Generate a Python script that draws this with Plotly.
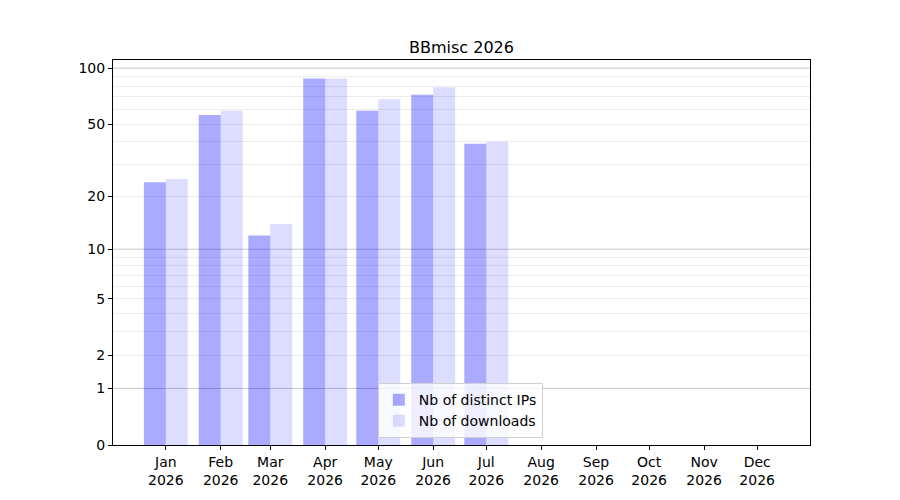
import numpy as np
import plotly.graph_objects as go

# monthly stats for BBmisc, 2026
month_starts = ['2026-01-01', '2026-02-01', '2026-03-01', '2026-04-01', '2026-05-01', '2026-06-01',
                '2026-07-01', '2026-08-01', '2026-09-01', '2026-10-01', '2026-11-01', '2026-12-01']
month_labels = ['Jan<br>2026', 'Feb<br>2026', 'Mar<br>2026', 'Apr<br>2026', 'May<br>2026', 'Jun<br>2026',
                'Jul<br>2026', 'Aug<br>2026', 'Sep<br>2026', 'Oct<br>2026', 'Nov<br>2026', 'Dec<br>2026']
distinct_ips = [24, 56, 12, 88, 59, 72, 39, 0, 0, 0, 0, 0]
downloads = [25, 59, 14, 88, 68, 79, 40, 0, 0, 0, 0, 0]

y_ticks = [0, 1, 2, 5, 10, 20, 50, 100]
minor_grid = [2, 3, 4, 5, 6, 7, 8, 9, 20, 30, 40, 50, 60, 70, 80, 90]
major_grid = [1, 10, 100]


def tr(v):
    # log(1 + x) scale
    return np.log10(1 + np.asarray(v, dtype=float))


DAY_MS = 24 * 3600 * 1000
bar_w = 12.4 * DAY_MS

fig = go.Figure()
fig.add_trace(go.Bar(x=month_starts, y=tr(distinct_ips), name='Nb of distinct IPs',
                     width=bar_w, offset=-bar_w, marker=dict(color='rgba(0,0,255,0.333)', line=dict(width=0))))
fig.add_trace(go.Bar(x=month_starts, y=tr(downloads), name='Nb of downloads',
                     width=bar_w, offset=0, marker=dict(color='rgba(0,0,255,0.133)', line=dict(width=0))))

# darker grid lines on the decades
for v in major_grid:
    fig.add_shape(type='line', xref='paper', x0=0, x1=1, yref='y', y0=tr(v), y1=tr(v),
                  line=dict(color='rgba(0,0,0,0.22)', width=1), layer='between')

fig.update_layout(
    template='none', width=900, height=500,
    margin=dict(l=105, r=98, t=52, b=63),
    paper_bgcolor='white', plot_bgcolor='white',
    font=dict(family='DejaVu Sans', size=14, color='black'),
    title=dict(text='BBmisc 2026', x=0.5, xref='paper', y=1 - 39 / 500, yanchor='middle',
               font=dict(size=16)),
    barmode='overlay', showlegend=True,
    legend=dict(x=0.380, y=0.018, xanchor='left', yanchor='bottom', bgcolor='rgba(255,255,255,0.8)',
                bordercolor='#d0d0d0', borderwidth=1, font=dict(size=14)),
)
fig.update_xaxes(type='date', range=['2025-12-02 04:00', '2026-12-30 20:00'],
                 tickmode='array', tickvals=month_starts, ticktext=month_labels,
                 showgrid=False, zeroline=False, showline=True, linecolor='black', linewidth=1, mirror=True,
                 ticks='outside', ticklen=4, tickcolor='black')
fig.update_yaxes(range=[0, 2.048], tickmode='array', tickvals=tr(y_ticks), ticktext=[str(t) for t in y_ticks],
                 showgrid=False, zeroline=False, showline=True, linecolor='black', linewidth=1, mirror=True,
                 ticks='outside', ticklen=4, tickcolor='black',
                 minor=dict(tickmode='array', tickvals=tr(minor_grid), showgrid=True,
                            gridcolor='rgba(0,0,0,0.07)', gridwidth=1, ticks=''))

fig.write_html('out.html')
